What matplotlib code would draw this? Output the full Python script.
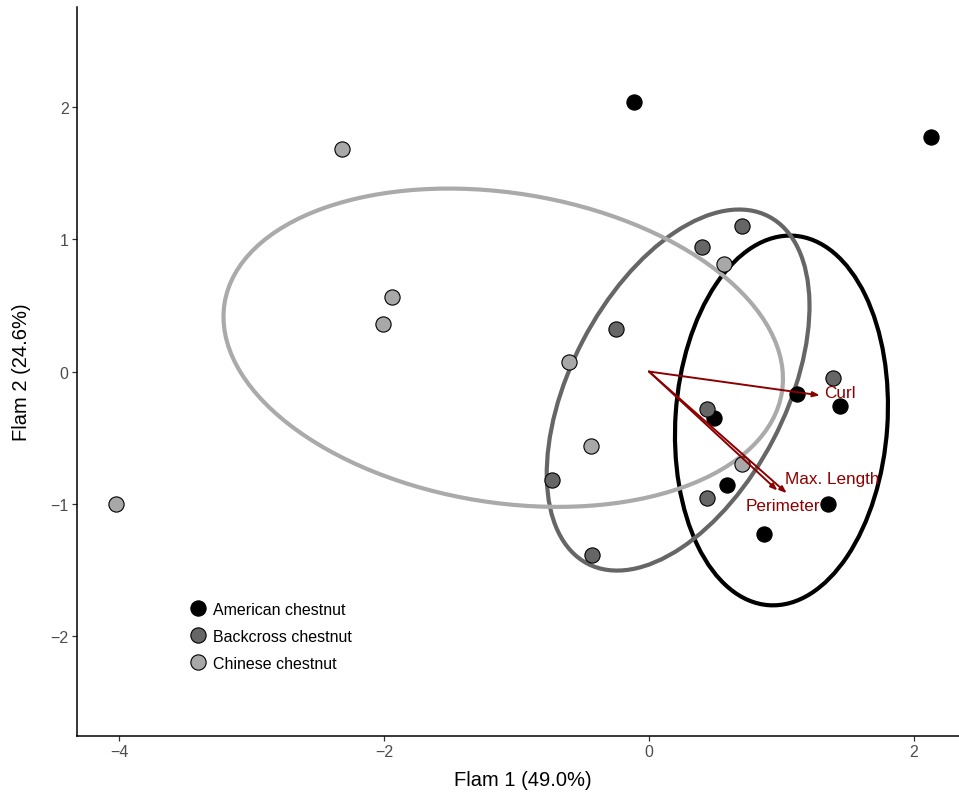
import matplotlib

matplotlib.use("Agg")
import matplotlib.pyplot as plt
import numpy as np
from matplotlib.lines import Line2D
from matplotlib.patches import Ellipse

plt.rcParams["font.family"] = ["Liberation Sans", "DejaVu Sans"]

groups = ["American chestnut", "Backcross chestnut", "Chinese chestnut"]
fill_colors = ["#000000", "#666666", "#A8A8A8"]
ring_colors = ["#000000", "#666666", "#AAAAAA"]

american_x = [-0.11, 2.13, 1.12, 1.44, 0.49, 0.59, 1.35, 0.87]
american_y = [2.04, 1.77, -0.17, -0.26, -0.35, -0.86, -1.00, -1.23]
backcross_x = [0.70, 0.40, -0.25, 1.39, 0.44, -0.73, 0.44, -0.43]
backcross_y = [1.10, 0.94, 0.32, -0.05, -0.28, -0.82, -0.96, -1.39]
chinese_x = [-2.32, -1.94, -2.01, -4.02, -0.60, -0.44, 0.57, 0.70]
chinese_y = [1.68, 0.56, 0.36, -1.00, 0.07, -0.56, 0.81, -0.70]

# ellipse: centre x, centre y, semi-major, semi-minor, angle (deg)
ellipse_params = [
    (1.00, -0.37, 1.40, 0.80, 86.1),
    (0.22, -0.14, 1.48, 0.81, 62.5),
    (-1.10, 0.18, 2.13, 1.17, -9.1),
]

loading_names = ["Curl", "Max. Length", "Perimeter"]
loading_x = [1.29, 1.04, 0.97]
loading_y = [-0.18, -0.92, -0.90]
label_x = [1.32, 1.03, 1.01]
label_y = [-0.16, -0.81, -1.01]
label_ha = ["left", "left", "center"]

xs = [american_x, backcross_x, chinese_x]
ys = [american_y, backcross_y, chinese_y]

fig = plt.figure(figsize=(9.59, 8.04), dpi=100)
ax = fig.add_axes([0.0803, 0.0833, 0.9197, 0.9067])

for (cx, cy, a, b, ang), col in zip(ellipse_params, ring_colors):
    ax.add_patch(Ellipse((cx, cy), 2 * a, 2 * b, angle=ang, fill=False,
                         edgecolor=col, linewidth=3.0, zorder=2))

for x, y, col in zip(xs, ys, fill_colors):
    ax.scatter(x, y, s=120, c=col, edgecolors="black", linewidths=0.8, zorder=3)

for lx, ly in zip(loading_x, loading_y):
    ax.annotate("", xy=(lx, ly), xytext=(0, 0),
                arrowprops=dict(arrowstyle="-|>,head_length=0.4,head_width=0.15",
                                color="#8B0000", linewidth=1.4, shrinkA=0, shrinkB=0),
                zorder=4)
for name, tx, ty, ha in zip(loading_names, label_x, label_y, label_ha):
    ax.text(tx, ty, name, color="#8B0000", fontsize=12.3, ha=ha, va="center", zorder=5)

ax.set_xlim(-4.317, 2.34)
ax.set_ylim(-2.756, 2.756)
ax.set_xticks([-4, -2, 0, 2])
ax.set_yticks([-2, -1, 0, 1, 2])
ax.set_xticklabels(["\u22124", "\u22122", "0", "2"])
ax.set_yticklabels(["\u22122", "\u22121", "0", "1", "2"])
ax.tick_params(labelsize=11.5, labelcolor="#4D4D4D", color="#333333", length=3.5,
               width=0.9, pad=2.5)
for side in ["top", "right"]:
    ax.spines[side].set_visible(False)
for side in ["left", "bottom"]:
    ax.spines[side].set_linewidth(1.1)

ax.set_xlabel("Flam 1 (49.0%)", fontsize=14.5)
ax.set_ylabel("Flam 2 (24.6%)", fontsize=14.5)
ax.xaxis.set_label_coords(0.505, -0.047)
ax.yaxis.set_label_coords(-0.052, 0.5)

handles = [Line2D([], [], marker="o", linestyle="none", markersize=11,
                  markerfacecolor=c, markeredgecolor="black", markeredgewidth=0.8)
           for c in fill_colors]
ax.legend(handles, groups, loc="center left", bbox_to_anchor=(0.1195, 0.137),
          frameon=False, fontsize=11.5, handletextpad=0.3, labelspacing=0.76,
          handlelength=1.2, borderaxespad=0)

fig.savefig("out.png", dpi=100)
